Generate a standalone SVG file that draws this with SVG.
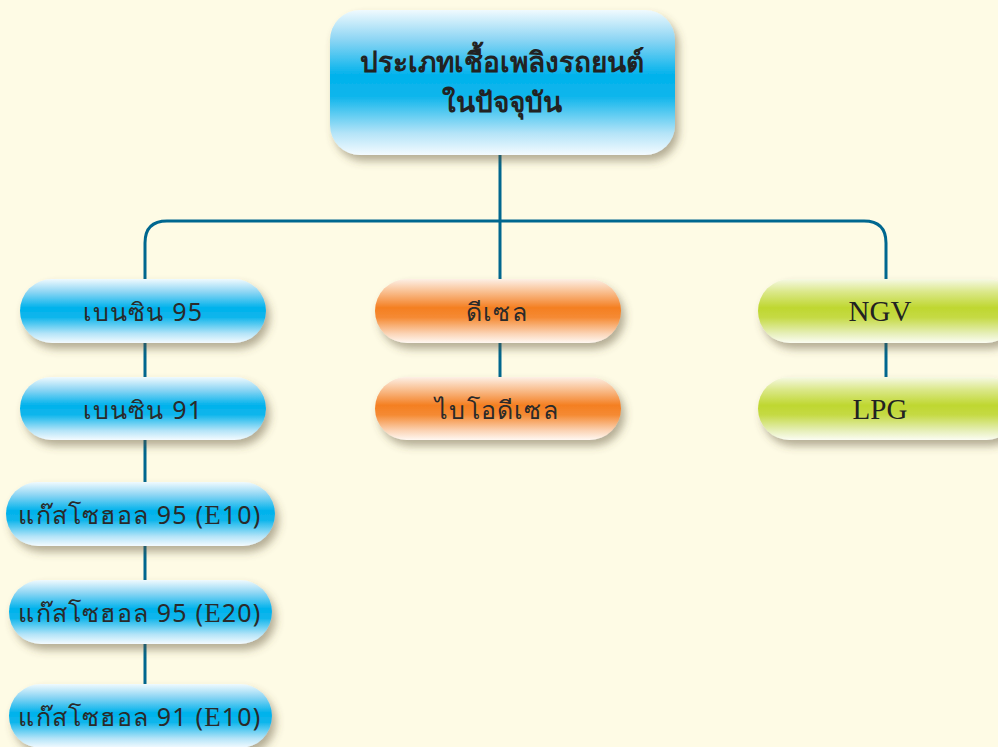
<svg xmlns="http://www.w3.org/2000/svg" width="998" height="747" viewBox="0 0 998 747">
<defs>
<linearGradient id="gBlue" x1="0" y1="0" x2="0" y2="1">
<stop offset="0" stop-color="#f0fafe"/>
<stop offset="0.2" stop-color="#8fd6f4"/>
<stop offset="0.45" stop-color="#00b2ec"/>
<stop offset="0.6" stop-color="#10b6ec"/>
<stop offset="0.85" stop-color="#b4e4f8"/>
<stop offset="1" stop-color="#f4fbff"/>
</linearGradient>
<linearGradient id="gOrange" x1="0" y1="0" x2="0" y2="1">
<stop offset="0" stop-color="#fdf0e6"/>
<stop offset="0.2" stop-color="#f9bf90"/>
<stop offset="0.45" stop-color="#f47f22"/>
<stop offset="0.6" stop-color="#f58a33"/>
<stop offset="0.85" stop-color="#fbd3b4"/>
<stop offset="1" stop-color="#fff8f2"/>
</linearGradient>
<linearGradient id="gGreen" x1="0" y1="0" x2="0" y2="1">
<stop offset="0" stop-color="#f6f9e4"/>
<stop offset="0.2" stop-color="#dbe88a"/>
<stop offset="0.45" stop-color="#bfd730"/>
<stop offset="0.6" stop-color="#c5da44"/>
<stop offset="0.85" stop-color="#e6efb8"/>
<stop offset="1" stop-color="#fbfdf2"/>
</linearGradient>
<filter id="sh" x="-10%" y="-20%" width="125%" height="160%">
<feDropShadow dx="4" dy="6" stdDeviation="4" flood-color="#5a5030" flood-opacity="0.45"/>
</filter>
</defs>
<style>
.blue{fill:url(#gBlue);filter:url(#sh)}
.orange{fill:url(#gOrange);filter:url(#sh)}
.green{fill:url(#gGreen);filter:url(#sh)}
.t{font-family:"Noto Sans","DejaVu Sans",sans-serif;font-size:25px;letter-spacing:1.2px;fill:#2a2a2a;text-anchor:middle}
.s{font-family:"Liberation Serif",serif;font-size:29px;fill:#222;text-anchor:middle}
.h{font-family:"Noto Sans","DejaVu Sans",sans-serif;font-size:28px;font-weight:bold;fill:#222;text-anchor:middle}
.c{fill:none;stroke:#00678f;stroke-width:3}
</style>
<rect width="998" height="747" fill="#fefbe5"/>
<g id="connectors">
<path class="c" d="M500 155 V280"/>
<path class="c" d="M145 280 V243 Q145 221 167 221 H864 Q886 221 886 243 V280"/>
<path class="c" d="M145 343 V377 M145 440 V482 M145 546 V580 M145 644 V684"/>
<path class="c" d="M500 343 V377"/>
<path class="c" d="M886 343 V377"/>
</g>
<g id="root">
<rect class="blue" x="330" y="10" width="345" height="145" rx="30"/>
<text class="h" x="502" y="72">ประเภทเชื้อเพลิงรถยนต์</text>
<text class="h" x="502" y="112">ในปัจจุบัน</text>
</g>
<g id="benzin95">
<rect class="blue" x="20" y="279" width="246" height="64" rx="32"/>
<text class="t" x="143" y="321">เบนซิน 95</text>
</g>
<g id="benzin91">
<rect class="blue" x="20" y="377" width="246" height="63" rx="31.5"/>
<text class="t" x="143" y="419">เบนซิน 91</text>
</g>
<g id="e10_95">
<rect class="blue" x="6" y="482" width="269" height="64" rx="32"/>
<text class="t" x="140" y="524">แก๊สโซฮอล 95 (<tspan font-family="Liberation Serif" font-size="27">E</tspan>10)</text>
</g>
<g id="e20_95">
<rect class="blue" x="9" y="580" width="263" height="64" rx="32"/>
<text class="t" x="140" y="622">แก๊สโซฮอล 95 (<tspan font-family="Liberation Serif" font-size="27">E</tspan>20)</text>
</g>
<g id="e10_91">
<rect class="blue" x="9" y="684" width="263" height="64" rx="32"/>
<text class="t" x="140" y="726">แก๊สโซฮอล 91 (<tspan font-family="Liberation Serif" font-size="27">E</tspan>10)</text>
</g>
<g id="diesel">
<rect class="orange" x="375" y="279" width="246" height="64" rx="32"/>
<text class="t" x="497" y="321">ดีเซล</text>
</g>
<g id="biodiesel">
<rect class="orange" x="375" y="377" width="246" height="63" rx="31.5"/>
<text class="t" x="497" y="419">ไบโอดีเซล</text>
</g>
<g id="ngv">
<rect class="green" x="758" y="279" width="260" height="64" rx="32"/>
<text class="s" x="880" y="321">NGV</text>
</g>
<g id="lpg">
<rect class="green" x="758" y="377" width="260" height="63" rx="31.5"/>
<text class="s" x="880" y="419">LPG</text>
</g>
</svg>
